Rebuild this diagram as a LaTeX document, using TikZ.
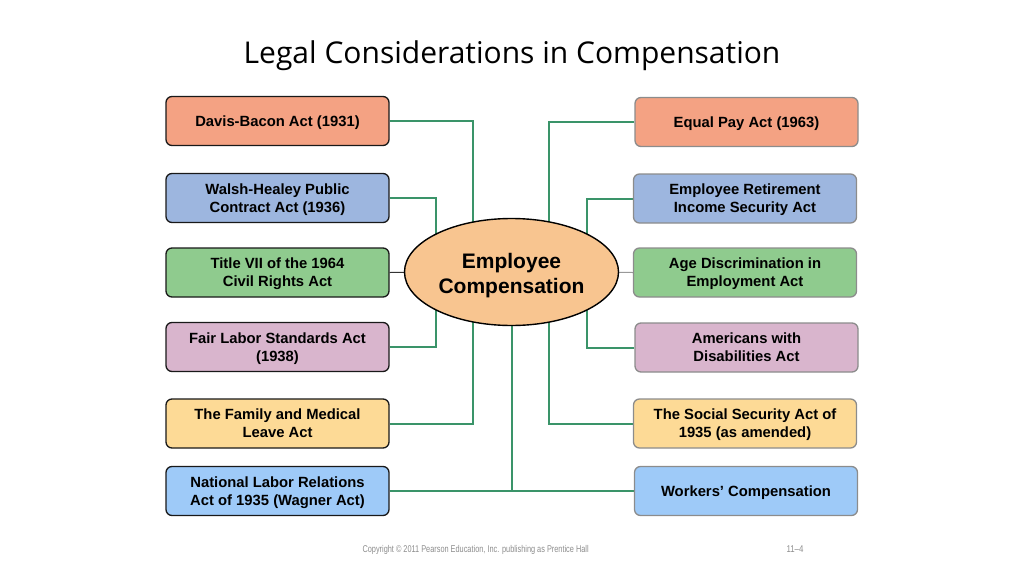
\documentclass[tikz,border=0pt]{standalone}
\usepackage{fontspec}
\setmainfont{Liberation Sans}
\newfontfamily\titlefont{Open Sans}
\usetikzlibrary{shapes.geometric,backgrounds}
\definecolor{cSalmon}{HTML}{F4A283}
\definecolor{cBlue}{HTML}{9DB6DF}
\definecolor{cGreen}{HTML}{8FCB8E}
\definecolor{cPink}{HTML}{D9B5CD}
\definecolor{cYellow}{HTML}{FDDA96}
\definecolor{cLBlue}{HTML}{9ECAF8}
\definecolor{cEll}{HTML}{F8C590}
\definecolor{cLine}{HTML}{3A9469}
\definecolor{cFoot}{HTML}{8C8C8C}
\tikzset{
  actbox/.style={rounded corners=6pt, minimum width=223pt, minimum height=49pt,
    align=center, font=\fontsize{14.8}{18}\selectfont\bfseries, line width=1.3pt, inner sep=2pt,
    text depth=0pt},
  leftbox/.style={actbox, draw=black!90},
  rightbox/.style={actbox, draw=black!45},
  conn/.style={draw=cLine, line width=2pt},
}
\begin{document}
\begin{tikzpicture}[x=1pt,y=-1pt]
\useasboundingbox (0,0) rectangle (1024,575);
\node[anchor=base, font=\titlefont\fontsize{30}{34}\selectfont] (title) at (512,64) {Legal Considerations in Compensation};

\node[ellipse, draw=black, line width=1.4pt, fill=cEll, minimum width=214pt, minimum height=107pt,
  inner sep=0pt] (ec) at (511.5,272) {};
\node[align=center, font=\fontsize{21}{25}\selectfont\bfseries] (ectext) at (511.5,276) {Employee\\Compensation};

\node[leftbox, fill=cSalmon] (davis) at (277.5,121) {Davis-Bacon Act (1931)};
\node[leftbox, fill=cBlue] (walsh) at (277.5,198) {Walsh-Healey Public\\Contract Act (1936)};
\node[leftbox, fill=cGreen] (title7) at (277.5,272.5) {Title VII of the 1964\\ Civil Rights Act};
\node[leftbox, fill=cPink] (flsa) at (277.5,347) {Fair Labor Standards Act\\(1938)};
\node[leftbox, fill=cYellow] (fmla) at (277.5,423.5) {The Family and Medical\\Leave Act};
\node[leftbox, fill=cLBlue] (nlra) at (277.5,491) {National Labor Relations\\Act of 1935 (Wagner Act)};

\node[rightbox, fill=cSalmon] (epa) at (746.5,122) {Equal Pay Act (1963)};
\node[rightbox, fill=cBlue] (erisa) at (745,198.5) {Employee Retirement\\Income Security Act};
\node[rightbox, fill=cGreen] (adea) at (745,272.5) {Age Discrimination in\\Employment Act};
\node[rightbox, fill=cPink] (ada) at (746.5,347.5) {Americans with\\Disabilities Act};
\node[rightbox, fill=cYellow] (ssa) at (745,423.5) {The Social Security Act of\\1935 (as amended)};
\node[rightbox, fill=cLBlue] (wc) at (746,491) {Workers’ Compensation};

\coordinate (bL1) at (473,0);
\coordinate (bL2) at (436,0);
\coordinate (bR1) at (549,0);
\coordinate (bR2) at (587,0);
\coordinate (bot) at (511.5,491);

\begin{scope}[on background layer]
\draw[conn] (davis.east) -| (bL1 |- ec.center);
\draw[conn] (fmla.east) -| (bL1 |- ec.center);
\draw[conn] (walsh.east) -| (bL2 |- ec.center);
\draw[conn] (flsa.east) -| (bL2 |- ec.center);
\draw[conn] (epa.west) -| (bR1 |- ec.center);
\draw[conn] (ssa.west) -| (bR1 |- ec.center);
\draw[conn] (erisa.west) -| (bR2 |- ec.center);
\draw[conn] (ada.west) -| (bR2 |- ec.center);
\draw[conn] (nlra.east) -- (bot) -- (wc.west);
\draw[conn] (bot) -- (ec.center);
\draw[draw=black!80, line width=1pt] (title7.east) -- (ec.center);
\draw[draw=black!40, line width=1pt] (adea.west) -- (ec.center);
\end{scope}

\node[anchor=base west, text=cFoot, font=\fontsize{9.8}{11}\selectfont] (copy) at (359,552) {\scalebox{0.75}[1]{Copyright © 2011 Pearson Education, Inc. publishing as Prentice Hall}};
\node[anchor=base, text=cFoot, font=\fontsize{9.8}{11}\selectfont] (pg) at (795,552) {\scalebox{0.8}[1]{11–4}};
\end{tikzpicture}
\end{document}
